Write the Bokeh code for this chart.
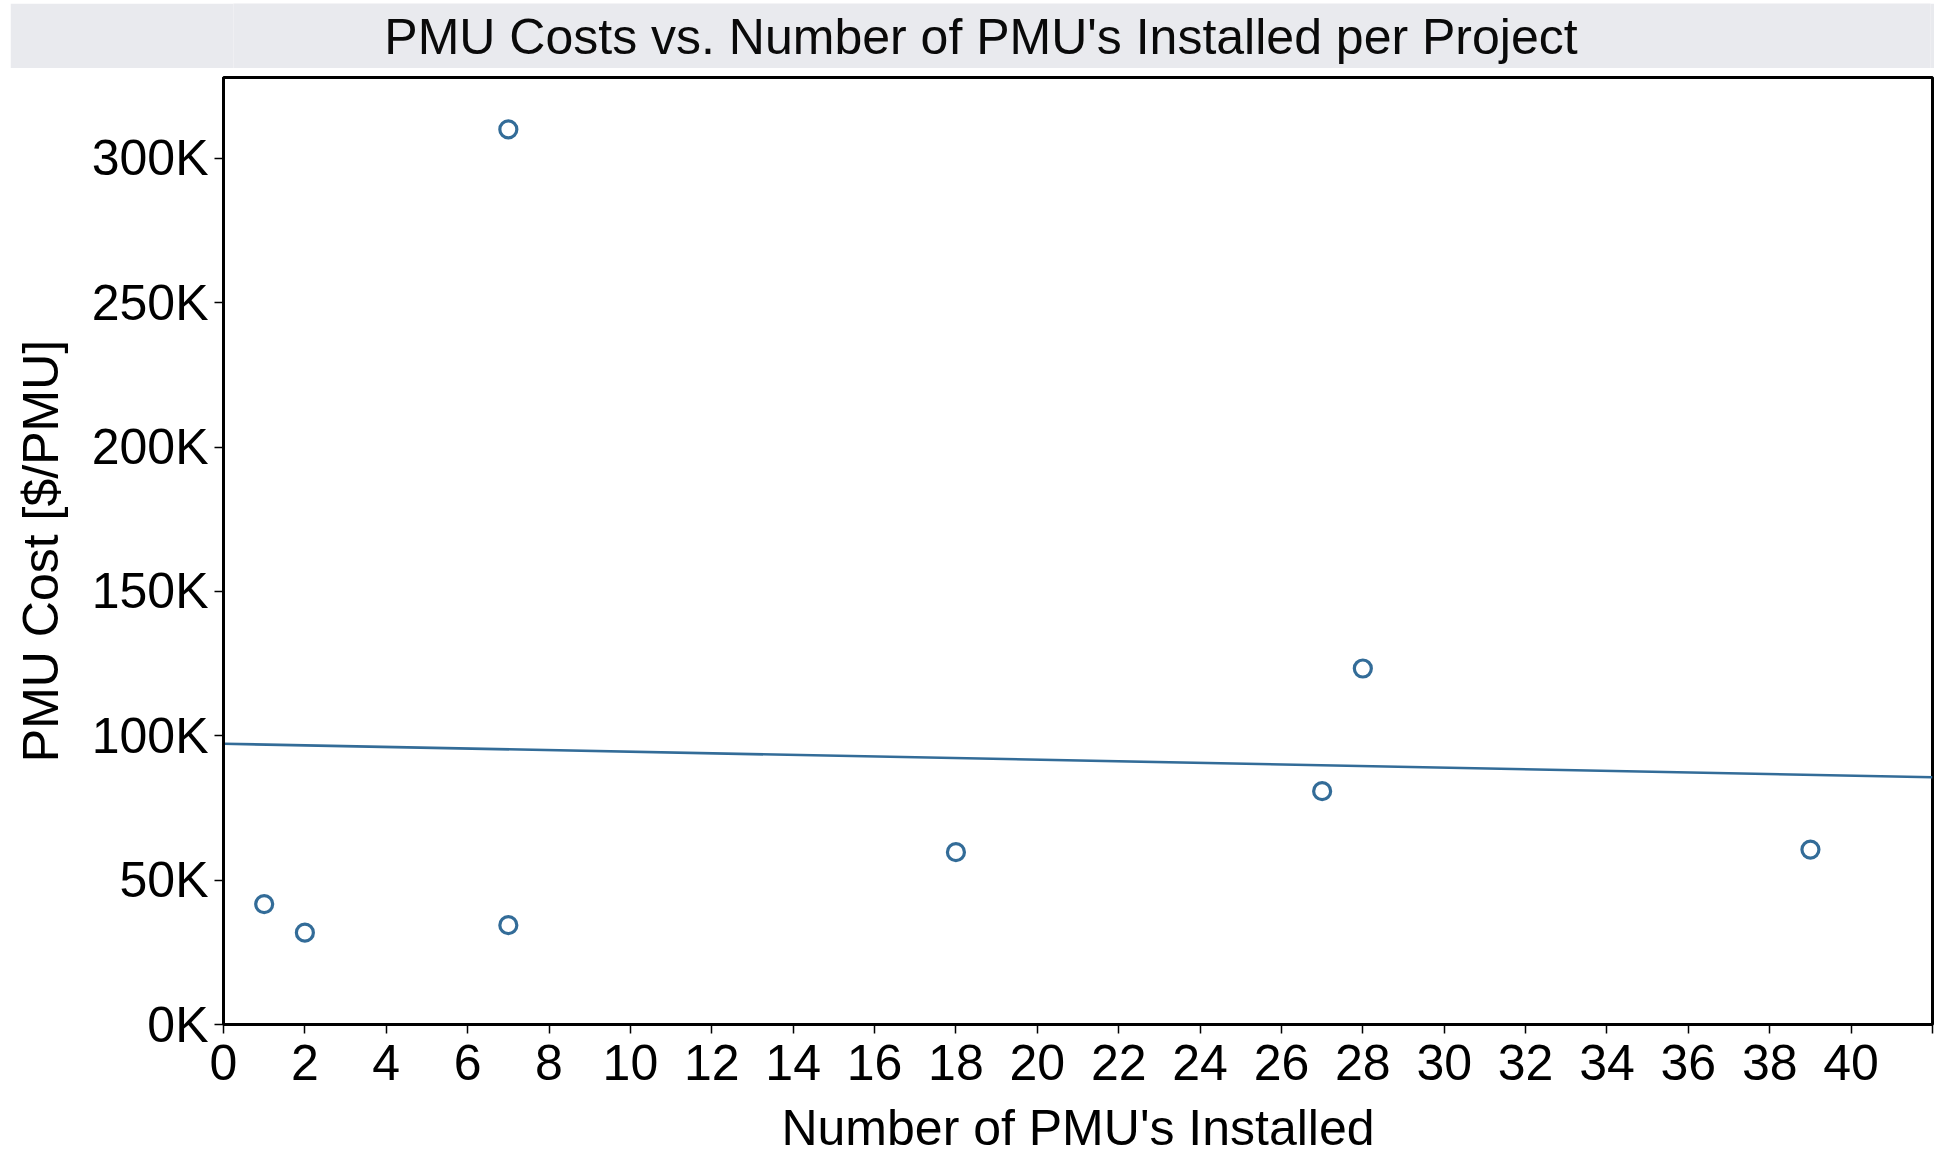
import numpy as np
from bokeh.plotting import figure
from bokeh.layouts import column
from bokeh.models import FixedTicker, Range1d, Label
from bokeh.embed import file_html
from bokeh.resources import INLINE

# ---- data ----
pmus_installed = [1, 2, 7, 7, 18, 27, 28, 39]
pmu_cost = [41700, 31800, 310000, 34400, 59700, 80800, 123300, 60600]

x_ticks = list(range(0, 43, 2))
x_tick_labels = [str(t) if t <= 40 else "" for t in x_ticks]
y_ticks = [0, 50000, 100000, 150000, 200000, 250000, 300000]
y_tick_labels = ["0K", "50K", "100K", "150K", "200K", "250K", "300K"]

title_text = "PMU Costs vs. Number of PMU's Installed per Project"
x_label = "Number of PMU's Installed"
y_label = "PMU Cost [$/PMU]"

FONT = "Liberation Sans"
BAND = "#e9eaee"
BLUE = "#336c98"

# linear trend fitted from the data
slope, intercept = np.polyfit(pmus_installed, pmu_cost, 1)
trend_x = [0, 42]
trend_y = [intercept + slope * v for v in trend_x]

# ---- title band ----
top = figure(width=1924, height=65, toolbar_location=None, output_backend="svg",
             x_range=Range1d(0, 42), y_range=Range1d(0, 1),
             min_border=0, min_border_left=0, min_border_right=0,
             min_border_top=0, min_border_bottom=0)
top.axis.visible = False
top.grid.visible = False
top.outline_line_color = None
top.background_fill_color = BAND
top.border_fill_color = BAND
top.margin = (3, 0, 0, 10)
top.add_layout(Label(x=18.5, y=0.48, text=title_text, text_align="center",
                     text_baseline="middle", text_font=FONT,
                     text_font_size="50px", text_color="#0a0a0a"))

# ---- main plot ----
p = figure(width=1936, height=1092, toolbar_location=None, output_backend="svg",
           x_range=Range1d(0, 42), y_range=Range1d(0, 328000),
           min_border_left=223, min_border_right=4, min_border_top=9,
           min_border_bottom=136)

p.line(trend_x, trend_y, line_color=BLUE, line_width=2.6)
p.scatter(pmus_installed, pmu_cost, marker="circle", size=17,
          fill_color=None, line_color=BLUE, line_width=3.2)

p.grid.visible = False
p.outline_line_color = "black"
p.outline_line_width = 3
p.background_fill_color = "white"
p.border_fill_color = "white"

p.xaxis.ticker = FixedTicker(ticks=x_ticks)
p.xaxis.major_label_overrides = {t: l for t, l in zip(x_ticks, x_tick_labels)}
p.yaxis.ticker = FixedTicker(ticks=y_ticks)
p.yaxis.major_label_overrides = {t: l for t, l in zip(y_ticks, y_tick_labels)}

for ax in (p.xaxis, p.yaxis):
    ax.axis_line_color = "black"
    ax.axis_line_width = 3
    ax.major_tick_line_color = "black"
    ax.major_tick_line_width = 1.5
    ax.major_tick_in = 0
    ax.major_tick_out = 9
    ax.minor_tick_line_color = None
    ax.major_label_text_font = FONT
    ax.major_label_text_font_size = "50px"
    ax.major_label_text_color = "black"
    ax.axis_label_text_font = FONT
    ax.axis_label_text_font_size = "50px"
    ax.axis_label_text_font_style = "normal"
    ax.axis_label_text_color = "black"

p.xaxis.axis_label = x_label
p.yaxis.axis_label = y_label
p.xaxis.major_label_standoff = 11
p.xaxis.axis_label_standoff = 17
p.yaxis.major_label_standoff = 6
p.yaxis.axis_label_standoff = 20

layout = column(top, p, spacing=0)
open("out.html", "w").write(file_html(layout, INLINE))
